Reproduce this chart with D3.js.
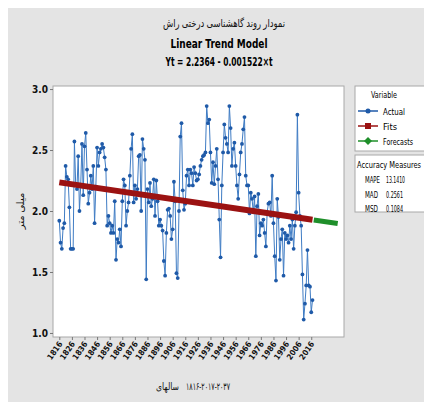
<!DOCTYPE html>
<html>
<head>
<meta charset="utf-8">
<script src="https://cdn.jsdelivr.net/npm/d3@7"></script>
<style>
  html, body { margin: 0; padding: 0; background: #fff; }
  svg { display: block; }
  text { font-family: "DejaVu Sans", "Liberation Sans", sans-serif; font-stretch: condensed; }
  .fa { font-family: "Noto Sans", "DejaVu Sans", sans-serif; font-stretch: normal; }
</style>
</head>
<body>
<div id="chart"></div>
<script>
/* ---------- data ---------- */
const firstYear = 1816;
// tree-ring width, one value per year 1816..2017
const actual = [
  1.92, 1.74, 1.69, 1.86, 1.90, 2.37, 2.28, 2.26, 2.03, 1.69,
  1.69, 1.69, 2.57, 2.22, 2.18, 2.45, 2.00, 2.21, 2.55, 2.13,
  2.53, 2.64, 2.34, 2.06, 2.15, 2.29, 2.18, 2.37, 1.90, 2.20,
  2.52, 2.37, 2.48, 2.51, 2.55, 2.52, 2.44, 2.34, 1.88, 1.96,
  1.90, 1.82, 1.88, 1.82, 2.08, 1.60, 1.77, 1.74, 1.85, 1.71,
  2.08, 2.26, 2.21, 1.88, 2.00, 2.07, 2.29, 2.51, 2.63, 2.07,
  2.21, 2.10, 2.18, 2.45, 2.46, 2.00, 2.59, 2.51, 2.42, 1.44,
  2.18, 2.07, 2.23, 2.04, 2.10, 2.26, 1.96, 2.25, 2.08, 1.88,
  1.93, 1.88, 1.84, 1.59, 1.47, 1.82, 2.01, 2.02, 1.96, 1.77,
  1.85, 2.24, 2.08, 1.49, 1.45, 2.00, 2.61, 2.72, 2.17, 2.01,
  2.06, 2.29, 2.34, 2.21, 2.34, 2.31, 2.21, 2.36, 2.31, 2.25,
  2.26, 2.30, 2.37, 2.42, 2.45, 2.46, 2.48, 2.86, 2.72, 2.75,
  2.48, 2.23, 2.40, 2.22, 2.37, 2.51, 2.26, 1.93, 1.62, 2.21,
  2.48, 2.71, 2.60, 2.55, 2.48, 2.86, 2.68, 2.37, 2.51, 2.56,
  2.37, 2.21, 2.10, 2.30, 2.48, 2.55, 2.67, 2.77, 2.29, 2.21,
  2.21, 1.98, 2.15, 2.10, 1.99, 2.12, 1.63, 2.04, 2.14, 1.80,
  1.90, 1.88, 1.93, 1.82, 1.71, 1.99, 2.06, 2.07, 1.96, 2.29,
  1.90, 1.63, 1.43, 2.10, 1.95, 1.60, 1.77, 1.85, 1.47, 1.82,
  1.77, 1.80, 1.74, 1.88, 1.77, 1.93, 1.69, 1.88, 1.99, 2.79,
  2.15, 1.96, 1.88, 1.48, 1.11, 1.24, 1.39, 1.68, 1.39, 1.38,
  1.17, 1.27
];
// trend line ends (Yt = 2.2364 - 0.001522 t) and forecast ends
const fitYears = [1816, 2017];
const fitValues = [2.235, 1.929];
const forecastYears = [2018, 2037];
const forecastValues = [1.927, 1.898];

const xTickYears = [1816, 1826, 1836, 1846, 1856, 1866, 1876, 1886, 1896, 1906,
  1916, 1926, 1936, 1946, 1956, 1966, 1976, 1986, 1996, 2006, 2016];
const yTicks = [1.0, 1.5, 2.0, 2.5, 3.0];

const legendItems = ['Actual', 'Fits', 'Forecasts'];
const legendColors = ['#1f5aa8', '#9b1212', '#1f8f2a'];
const accuracyLabels = ['MAPE', 'MAD', 'MSD'];
const accuracyValues = ['13.1410', '0.2561', '0.1084'];

/* ---------- layout ---------- */
const W = 424, H = 402;
const plot = { left: 53, right: 344, top: 86, bottom: 337 };

const svg = d3.select('#chart').append('svg')
  .attr('width', W).attr('height', H);

svg.append('rect').attr('x', 8).attr('y', 8).attr('width', W - 8).attr('height', H - 8)
  .attr('fill', '#e4e4e4');

const x = d3.scaleLinear().domain([1811, 2042]).range([plot.left, plot.right]);
const y = d3.scaleLinear().domain([0.967, 3.025]).range([plot.bottom, plot.top]);

// plot frame
svg.append('rect')
  .attr('x', plot.left).attr('y', plot.top)
  .attr('width', plot.right - plot.left).attr('height', plot.bottom - plot.top)
  .attr('fill', '#fff').attr('stroke', '#a8a8a8').attr('stroke-width', 1);

// squeezes a text to a given width
function fit(sel, w) {
  return sel.attr('textLength', w).attr('lengthAdjust', 'spacingAndGlyphs');
}

// titles
fit(svg.append('text').attr('class', 'fa').attr('x', 224).attr('y', 27)
  .attr('text-anchor', 'middle').attr('font-size', 11).attr('fill', '#111')
  .text('نمودار روند گاهشناسی درختی راش'), 122);
fit(svg.append('text').attr('x', 219).attr('y', 48)
  .attr('text-anchor', 'middle').attr('font-size', 13).attr('font-weight', 'bold')
  .text('Linear Trend Model'), 97);
fit(svg.append('text').attr('x', 219).attr('y', 66)
  .attr('text-anchor', 'middle').attr('font-size', 13).attr('font-weight', 'bold')
  .text('Yt = 2.2364 - 0.001522×t'), 107);

// y axis
const yAxis = svg.append('g').attr('transform', `translate(${plot.left},0)`)
  .call(d3.axisLeft(y).tickValues(yTicks).tickFormat(d3.format('.1f')).tickSize(3).tickPadding(2));
yAxis.select('.domain').remove();
yAxis.selectAll('line').attr('stroke', '#777');
yAxis.selectAll('text').attr('font-size', 10).attr('font-weight', 'bold').attr('fill', '#111');

// x axis
const xAxis = svg.append('g').attr('transform', `translate(0,${plot.bottom})`)
  .call(d3.axisBottom(x).tickValues(xTickYears).tickFormat(d3.format('d')).tickSize(3));
xAxis.select('.domain').remove();
xAxis.selectAll('line').attr('stroke', '#777');
xAxis.selectAll('text')
  .attr('font-size', 8).attr('font-weight', 'bold').attr('fill', '#111')
  .attr('text-anchor', 'end')
  .attr('dy', 0).attr('y', 0)
  .attr('transform', 'translate(3,7) rotate(-55)');

// axis titles
svg.append('text').attr('class', 'fa')
  .attr('transform', 'translate(24,211) rotate(-90)')
  .attr('text-anchor', 'middle').attr('font-size', 10).attr('fill', '#111')
  .text('میلی متر');
fit(svg.append('text').attr('class', 'fa').attr('x', 156).attr('y', 390)
  .attr('font-size', 10).attr('fill', '#111')
  .text('سالهای'), 23);
fit(svg.append('text').attr('class', 'fa').attr('x', 186).attr('y', 390)
  .attr('font-size', 10).attr('fill', '#111')
  .attr('direction', 'ltr')
  .text('۱۸۱۶-۲۰۱۷-۲۰۳۷'), 44);

/* ---------- series ---------- */
const actualData = actual.map((v, i) => ({ year: firstYear + i, v }));

svg.append('path').datum(actualData)
  .attr('fill', 'none').attr('stroke', '#3f7cc4').attr('stroke-width', 1)
  .attr('d', d3.line().x(d => x(d.year)).y(d => y(d.v)));

svg.append('g').selectAll('circle').data(actualData).join('circle')
  .attr('cx', d => x(d.year)).attr('cy', d => y(d.v)).attr('r', 1.9)
  .attr('fill', legendColors[0]);

const fitData = fitYears.map((yr, i) => ({ year: yr, v: fitValues[i] }));
svg.append('path').datum(fitData)
  .attr('fill', 'none').attr('stroke', legendColors[1]).attr('stroke-width', 6)
  .attr('d', d3.line().x(d => x(d.year)).y(d => y(d.v)));

const fcData = forecastYears.map((yr, i) => ({ year: yr, v: forecastValues[i] }));
svg.append('path').datum(fcData)
  .attr('fill', 'none').attr('stroke', legendColors[2]).attr('stroke-width', 5)
  .attr('d', d3.line().x(d => x(d.year)).y(d => y(d.v)));

/* ---------- legend ---------- */
const lg = svg.append('g');
lg.append('rect').attr('x', 355).attr('y', 86).attr('width', 80).attr('height', 65)
  .attr('fill', '#fff').attr('stroke', '#a8a8a8');
fit(lg.append('text').attr('x', 384).attr('y', 98).attr('text-anchor', 'middle')
  .attr('font-size', 9).text('Variable'), 26);

const legendWidths = [22, 14, 30];
legendItems.forEach((name, i) => {
  const ly = 111 + i * 15;
  const c = legendColors[i];
  lg.append('line').attr('x1', 358).attr('x2', 378).attr('y1', ly).attr('y2', ly)
    .attr('stroke', c).attr('stroke-width', 1.5);
  if (i === 0) {
    lg.append('circle').attr('cx', 368).attr('cy', ly).attr('r', 2.5).attr('fill', c);
  } else if (i === 1) {
    lg.append('rect').attr('x', 365).attr('y', ly - 3).attr('width', 6).attr('height', 6).attr('fill', c);
  } else {
    lg.append('path').attr('d', `M368,${ly - 4}L372,${ly}L368,${ly + 4}L364,${ly}Z`).attr('fill', c);
  }
  fit(lg.append('text').attr('x', 383).attr('y', ly + 3.5).attr('font-size', 9).text(name), legendWidths[i]);
});

lg.append('rect').attr('x', 355).attr('y', 155).attr('width', 80).attr('height', 57)
  .attr('fill', '#fff').attr('stroke', '#a8a8a8');
fit(lg.append('text').attr('x', 357).attr('y', 168).attr('font-size', 9).text('Accuracy Measures'), 64);
accuracyLabels.forEach((lab, i) => {
  const ly = 183 + i * 14.5;
  fit(lg.append('text').attr('x', 365).attr('y', ly).attr('font-size', 9).text(lab), i === 0 ? 15 : 13);
  fit(lg.append('text').attr('x', 386).attr('y', ly).attr('font-size', 9).text(accuracyValues[i]), i === 0 ? 19 : 17);
});
</script>
</body>
</html>
